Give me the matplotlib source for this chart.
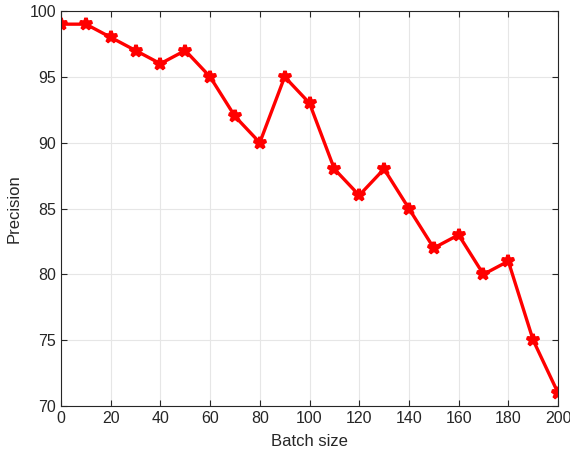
import matplotlib
matplotlib.use("Agg")
import matplotlib.pyplot as plt

plt.rcParams['font.family'] = ['Liberation Sans', 'DejaVu Sans']

batch_size = [0, 10, 20, 30, 40, 50, 60, 70, 80, 90, 100,
              110, 120, 130, 140, 150, 160, 170, 180, 190, 200]
precision = [99, 99, 98, 97, 96, 97, 95, 92, 90, 95, 93,
             88, 86, 88, 85, 82, 83, 80, 81, 75, 71]

fig = plt.figure(figsize=(5.7, 4.55), dpi=100)
ax = fig.add_axes([61 / 570, 1 - 406 / 455, (558 - 61) / 570, (406 - 11) / 455])

ax.plot(batch_size, precision, color='red', linewidth=2.4,
        marker='*', markersize=9, markeredgewidth=2.6)

ax.set_xlim(0, 200)
ax.set_ylim(70, 100)
ax.set_xticks(range(0, 201, 20))
ax.set_yticks(range(70, 101, 5))
ax.grid(True, color='#e6e6e6', linewidth=0.8)
ax.set_axisbelow(True)
ax.tick_params(direction='in', top=True, right=True, labelsize=11.5,
               colors='#262626', length=4)
for s in ax.spines.values():
    s.set_color('#262626')
    s.set_linewidth(0.8)

ax.set_xlabel('Batch size', fontsize=12, color='#262626', labelpad=6)
ax.set_ylabel('Precision', fontsize=12, color='#262626', labelpad=6)

fig.savefig('out.png', dpi=100)
